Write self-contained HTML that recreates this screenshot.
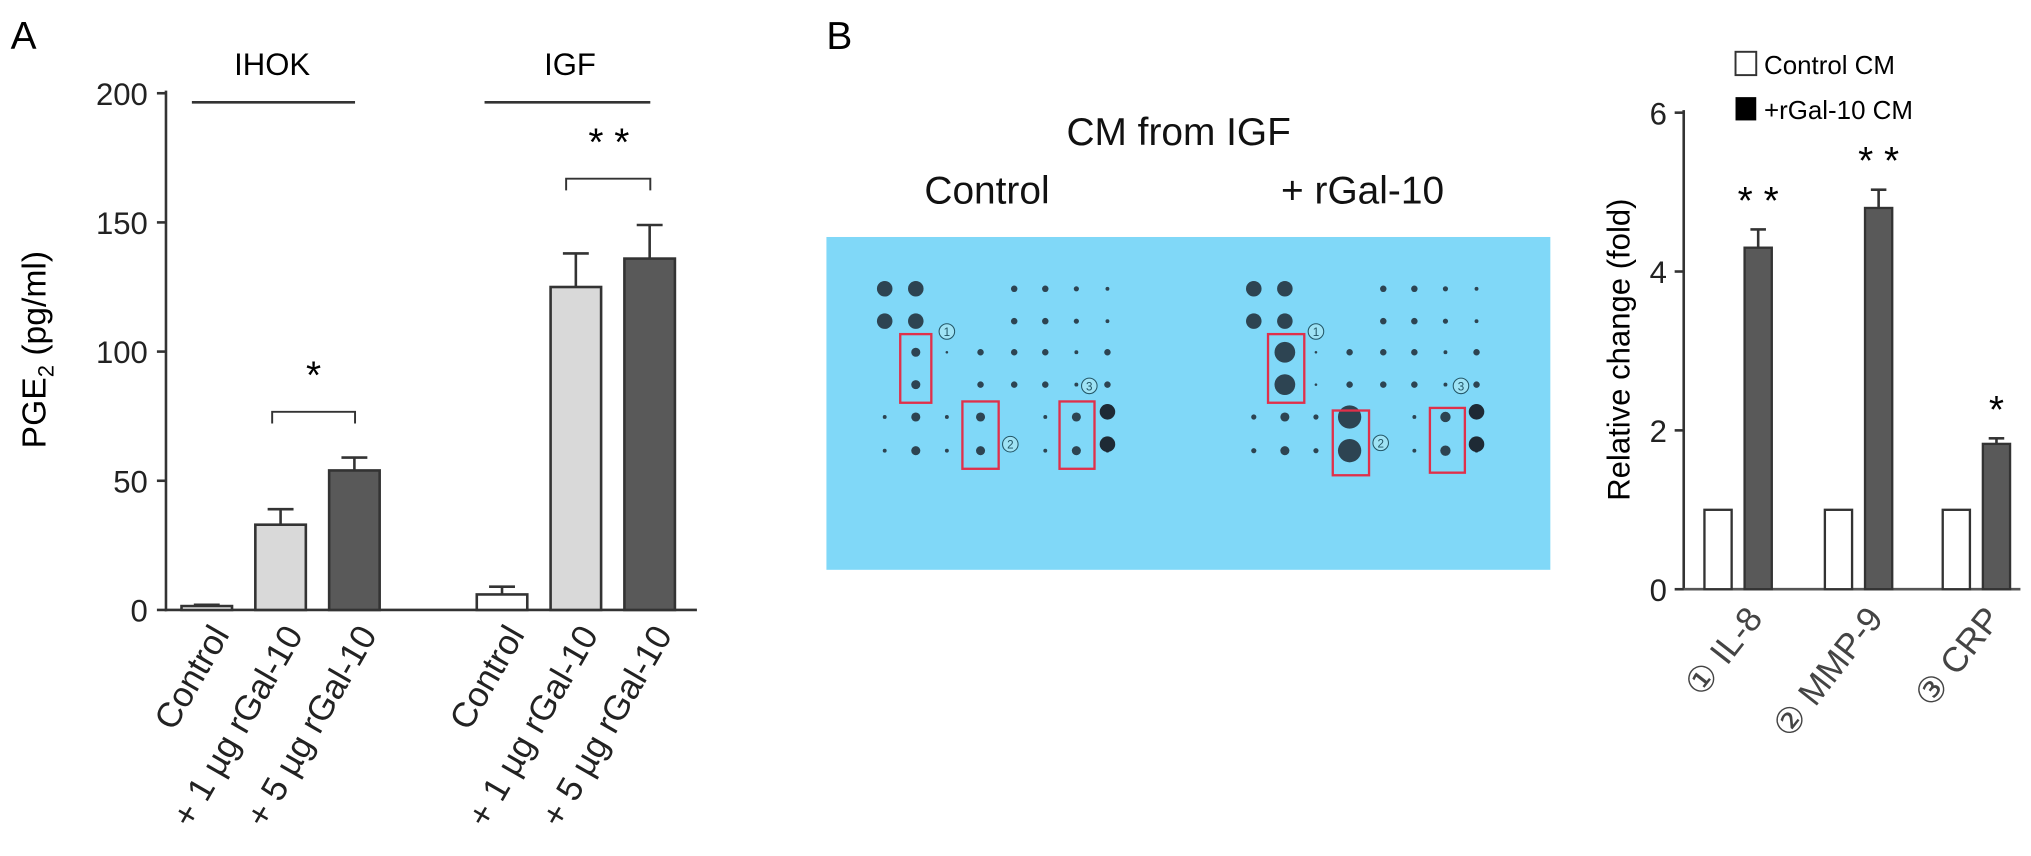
<!DOCTYPE html>
<html><head><meta charset="utf-8"><style>
html,body{margin:0;padding:0;background:#fff;}
svg{display:block;font-family:"Liberation Sans",sans-serif;}
</style></head><body>
<svg id="fig" width="2031" height="856" viewBox="0 0 1568 661">
<text x="8" y="38" font-size="30">A</text>
<text x="638" y="38" font-size="30">B</text>
<g id="chartA"></g>
<g id="blot"></g>
<g id="chartB"></g>
</svg>
<script>
// Panel A data
const aCategories = ["Control", "+ 1 µg rGal-10", "+ 5 µg rGal-10", "Control", "+ 1 µg rGal-10", "+ 5 µg rGal-10"];
const aValues = [1.5, 33, 54, 6, 125, 136];
const aErrors = [0.5, 6, 5, 3, 13, 13];
const aTicks = [0, 50, 100, 150, 200];
// Panel B chart data
const bCategories = ["① IL-8", "② MMP-9", "③ CRP"];
const bControl = [1, 1, 1];
const bControlErr = [0, 0.02, 0.02];
const bTreated = [4.3, 4.8, 1.83];
const bTreatedErr = [0.23, 0.23, 0.07];
const bTicks = [0, 2, 4, 6];

const NS = "http://www.w3.org/2000/svg";
function mk(parent, tag, attrs, text) {
  const e = document.createElementNS(NS, tag);
  for (const k in attrs) e.setAttribute(k, attrs[k]);
  if (text !== undefined) e.textContent = text;
  parent.appendChild(e);
  return e;
}
const fills = ["#fff", "#d9d9d9", "#595959"];

// ---- Chart A ----
(function () {
  const g = document.getElementById("chartA");
  const y = v => 471 - v * (399 / 200);
  const xs = [140, 197, 254, 368, 425, 482];
  const bw = 39;
  let e = mk(g, "line", {x1: 128, y1: 70, x2: 128, y2: 472, stroke: "#333", "stroke-width": 2});
  
  
  e = mk(g, "line", {x1: 127, y1: 471, x2: 538, y2: 471, stroke: "#333", "stroke-width": 2});
  
  
  aTicks.forEach(t => {
    let l = mk(g, "line", {x1: 121, y1: y(t), x2: 128, y2: y(t), stroke: "#333", "stroke-width": 2});
    
    
    let tx = mk(g, "text", {x: 114, y: y(t) + 9, "font-size": 24, "text-anchor": "end", fill: "#222"}, t);
    
    
  });
  let yt = mk(g, "text", {x: 0, y: 0, "font-size": 26, "text-anchor": "middle", transform: "translate(35,270) rotate(-90)"});
  yt.innerHTML = 'PGE<tspan font-size="17" dy="6">2</tspan><tspan dy="-6"> (pg/ml)</tspan>';
  
  
  aValues.forEach((v, i) => {
    const x = xs[i], cx = x + bw / 2;
    const top = y(aValues[i] + aErrors[i]);
    let el = mk(g, "line", {x1: cx, y1: y(v), x2: cx, y2: top, stroke: "#333", "stroke-width": 2});
    
    
    el = mk(g, "line", {x1: cx - 10, y1: top, x2: cx + 10, y2: top, stroke: "#333", "stroke-width": 2});
    
    
    const r = mk(g, "rect", {x: x, y: y(v), width: bw, height: Math.max(471 - y(v), 1), fill: fills[i % 3], stroke: "#333", "stroke-width": 2});
    
    
    const lab = mk(g, "text", {x: 0, y: 0, "font-size": 27, "text-anchor": "end", fill: "#222", transform: `translate(${cx + 18},490) rotate(-60)`}, aCategories[i]);
    
    
  });
  [[148, 274, "IHOK", 210], [374, 502, "IGF", 440]].forEach(d => {
    let l = mk(g, "line", {x1: d[0], y1: 79, x2: d[1], y2: 79, stroke: "#333", "stroke-width": 2});
    
    
    let t = mk(g, "text", {x: d[3], y: 58, "font-size": 24, "text-anchor": "middle"}, d[2]);
    
    
  });
  [[210, 274, 318, "*", 242, 300], [437, 502, 138, "* *", 470, 120]].forEach(d => {
    let p = mk(g, "path", {d: `M${d[0]},${d[2] + 9}V${d[2]}H${d[1]}V${d[2] + 9}`, fill: "none", stroke: "#333", "stroke-width": 1.5});
    
    
    let t = mk(g, "text", {x: d[4], y: d[5], "font-size": 30, "text-anchor": "middle"}, d[3]);
    
    
  });
})();

// ---- Blot ----
(function () {
  const g = document.getElementById("blot");
  let t = mk(g, "text", {x: 910, y: 112, "font-size": 30, "text-anchor": "middle", fill: "#111"}, "CM from IGF");
  
  
  t = mk(g, "text", {x: 762, y: 157, "font-size": 30, "text-anchor": "middle", fill: "#111"}, "Control");
  
  
  t = mk(g, "text", {x: 1052, y: 157, "font-size": 30, "text-anchor": "middle", fill: "#111"}, "+ rGal-10");
  
  
  let bg = mk(g, "rect", {x: 638, y: 183, width: 559, height: 257, fill: "#80d8f8"});
  
  
  const cols = [683, 707, 731, 757, 783, 807, 831, 855];
  const rows = [223, 248, 272, 297, 322, 348];
  const ctrl = [
    [6,6,0,0,2.5,2.5,2,1.5],
    [6,6,0,0,2.5,2.5,2,1.5],
    [0,3.5,1,2.5,2.5,2.5,1.5,2.5],
    [0,3.5,0,2.5,2.5,2.5,1.5,2.5],
    [1.5,3.5,1.5,3.5,0,1.5,3.5,1.5],
    [1.5,3.5,1.5,3.5,0,1.5,3.5,1.5]];
  const rgal = [
    [6,6,0,0,2.5,2.5,2,1.5],
    [6,6,0,0,2.5,2.5,2,1.5],
    [0,8,1,2.5,2.5,2.5,1.5,2.5],
    [0,8,1,2.5,2.5,2.5,1.5,2.5],
    [2,3.5,2,9,0,1.5,4,1.5],
    [2,3.5,2,9,0,1.5,4,1.5]];
  [[ctrl, 0], [rgal, 285]].forEach(([m, off]) => {
    m.forEach((row, ri) => row.forEach((s, ci) => {
      if (!s) return;
      const c = mk(g, "circle", {cx: cols[ci] + off, cy: rows[ri], r: s, fill: "#1e2a35", opacity: 0.85});
      
      
    }));
    [318, 343].forEach(yy => {
      const c = mk(g, "circle", {cx: 855 + off, cy: yy, r: 6, fill: "#1e2a35"});
      
      
    });
  });
  const boxes = [[695,258,24,53],[743,310,28,52],[818,310,27,52],[979,258,28,53],[1029,317,28,50],[1104,315,27,50]];
  boxes.forEach(b => {
    const r = mk(g, "rect", {x: b[0], y: b[1], width: b[2], height: b[3], fill: "none", stroke: "#e0304a", "stroke-width": 1.8});
    
    
  });
  const nums = [[731,256,"1"],[780,343,"2"],[841,298,"3"],[1016,256,"1"],[1066,342,"2"],[1128,298,"3"]];
  nums.forEach(n => {
    const c = mk(g, "circle", {cx: n[0], cy: n[1], r: 6, fill: "#9fe3f5", stroke: "#256", "stroke-width": 0.8});
    
    
    const tt = mk(g, "text", {x: n[0], y: n[1] + 3.5, "font-size": 9, "text-anchor": "middle", fill: "#256"}, n[2]);
    
    
  });
})();

// ---- Chart B ----
(function () {
  const g = document.getElementById("chartB");
  const y = v => 455 - v * (368 / 6);
  const gx = [1316, 1409, 1500];
  const bw = 21;
  let e = mk(g, "line", {x1: 1300, y1: 85, x2: 1300, y2: 456, stroke: "#333", "stroke-width": 2});
  
  
  e = mk(g, "line", {x1: 1299, y1: 455, x2: 1560, y2: 455, stroke: "#555", "stroke-width": 2});
  
  
  bTicks.forEach(t => {
    let l = mk(g, "line", {x1: 1293, y1: y(t), x2: 1300, y2: y(t), stroke: "#333", "stroke-width": 2});
    
    
    let tx = mk(g, "text", {x: 1287, y: y(t) + 9, "font-size": 24, "text-anchor": "end", fill: "#222"}, t);
    
    
  });
  let yt = mk(g, "text", {x: 0, y: 0, "font-size": 24, "text-anchor": "middle", transform: "translate(1258,270) rotate(-90)"}, "Relative change (fold)");
  
  
  const stars = ["* *", "* *", "*"];
  bCategories.forEach((c, i) => {
    [[bControl, bControlErr, 0, "#fff"], [bTreated, bTreatedErr, 31, "#595959"]].forEach(([vals, errs, dx, f]) => {
      const x = gx[i] + dx, cx = x + bw / 2, v = vals[i], top = y(v + errs[i]);
      if (errs[i] > 0.03) {
        let el = mk(g, "line", {x1: cx, y1: y(v), x2: cx, y2: top, stroke: "#333", "stroke-width": 2});
        
        
        el = mk(g, "line", {x1: cx - 6, y1: top, x2: cx + 6, y2: top, stroke: "#333", "stroke-width": 2});
        
        
      }
      const r = mk(g, "rect", {x: x, y: y(v), width: bw, height: 455 - y(v), fill: f, stroke: "#333", "stroke-width": 1.8});
      
      
    });
    const st = mk(g, "text", {x: gx[i] + 31 + bw / 2, y: y(bTreated[i] + bTreatedErr[i]) - 12, "font-size": 30, "text-anchor": "middle"}, stars[i]);
    
    
    const lab = mk(g, "text", {x: 0, y: 0, "font-size": 27, "text-anchor": "end", fill: "#444", transform: `translate(${gx[i] + 46},478) rotate(-52)`}, c);
    
    
  });
  let s = mk(g, "rect", {x: 1340, y: 40, width: 16, height: 18, fill: "#fff", stroke: "#333", "stroke-width": 1.5});
  
  
  let lt = mk(g, "text", {x: 1362, y: 57, "font-size": 20}, "Control CM");
  
  
  s = mk(g, "rect", {x: 1340, y: 75, width: 16, height: 18, fill: "#000"});
  
  
  lt = mk(g, "text", {x: 1362, y: 92, "font-size": 20}, "+rGal-10 CM");
  
  
})();
</script>
</body></html>
